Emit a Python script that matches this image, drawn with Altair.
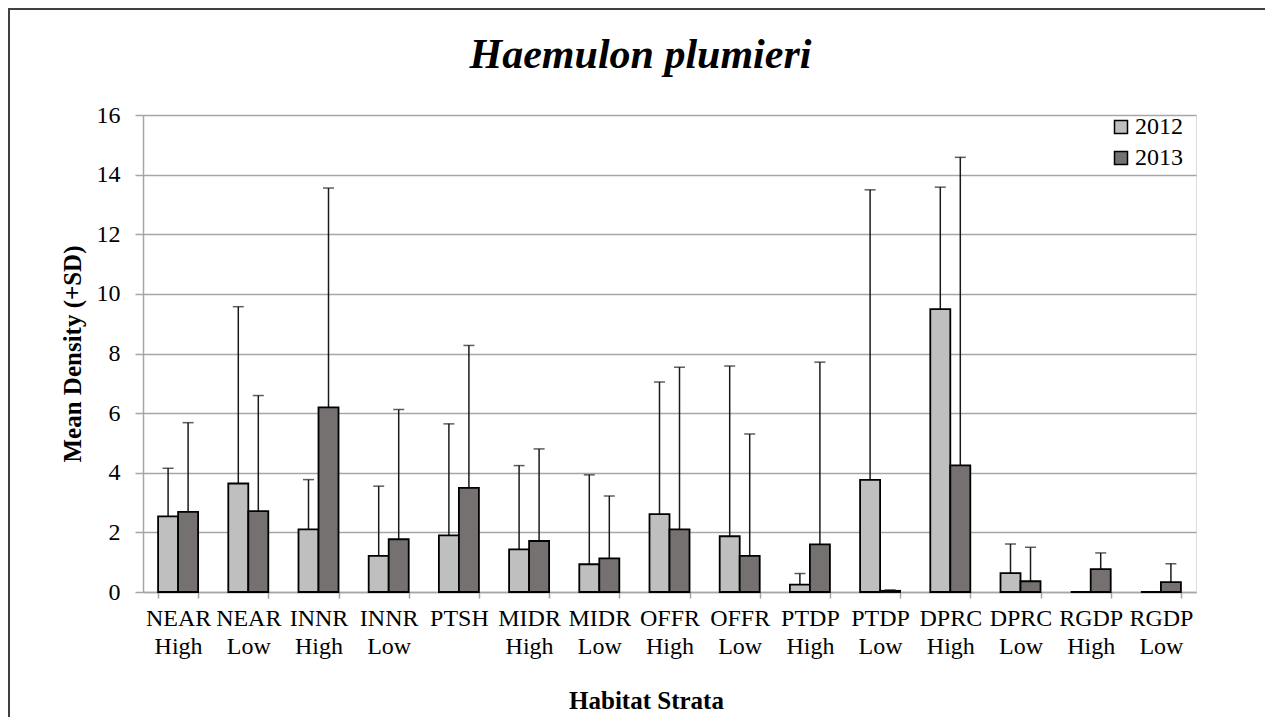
import altair as alt
import pandas as pd

strata = ["NEAR High", "NEAR Low", "INNR High", "INNR Low", "PTSH",
          "MIDR High", "MIDR Low", "OFFR High", "OFFR Low", "PTDP High",
          "PTDP Low", "DPRC High", "DPRC Low", "RGDP High", "RGDP Low"]
years = ["2012", "2013"]
mean_2012 = [2.54, 3.64, 2.10, 1.21, 1.90, 1.43, 0.93, 2.61, 1.87, 0.25, 3.76, 9.49, 0.63, 0.0, 0.0]
sd_2012 = [1.61, 5.93, 1.67, 2.34, 3.74, 2.81, 3.00, 4.43, 5.71, 0.37, 9.73, 4.09, 0.98, 0.0, 0.0]
mean_2013 = [2.69, 2.71, 6.19, 1.77, 3.49, 1.71, 1.13, 2.10, 1.21, 1.60, 0.04, 4.25, 0.36, 0.77, 0.33]
sd_2013 = [2.99, 3.88, 7.36, 4.35, 4.78, 3.09, 2.09, 5.44, 4.09, 6.11, 0.03, 10.33, 1.14, 0.54, 0.62]
colors = ["#BFBFBF", "#767171"]

rows = []
for yr, means, sds in [("2012", mean_2012, sd_2012), ("2013", mean_2013, sd_2013)]:
    for s, m, sd in zip(strata, means, sds):
        rows.append({"stratum": s, "year": yr, "mean": m, "sd": sd, "upper": m + sd})
df = pd.DataFrame(rows)

FONT = "Liberation Serif"
GRID = "#A6A6A6"

x_enc = alt.X("stratum:N", sort=strata,
              scale=alt.Scale(paddingInner=0.43, paddingOuter=0.215),
              axis=alt.Axis(title="Habitat Strata", labelExpr="split(datum.label, ' ')",
                            labelAngle=0, labelFont=FONT, labelFontSize=24, labelColor="black",
                            labelLineHeight=28, labelPadding=8, labelLimit=0, labelOverlap=False,
                            tickBand="extent", tickSize=6, tickColor=GRID, tickWidth=1.5,
                            domainColor=GRID, domainWidth=1.5, grid=False,
                            titleFont=FONT, titleFontSize=25, titleFontWeight="bold",
                            titleColor="black", titleX=503, titleY=108,
                            titleBaseline="middle", titleAlign="center"))
xo_enc = alt.XOffset("year:N", sort=years, scale=alt.Scale(paddingInner=0, paddingOuter=0))

y_scale = alt.Scale(domain=[0, 16], nice=False)
y_axis = alt.Axis(values=list(range(0, 17, 2)), grid=True, gridColor=GRID, gridWidth=1.5,
                  domainColor=GRID, domainWidth=1.5, tickColor=GRID, tickWidth=1.5, tickSize=8,
                  labelFont=FONT, labelFontSize=24, labelColor="black", labelPadding=15,
                  title="Mean Density (+SD)", titleFont=FONT, titleFontSize=25,
                  titleFontWeight="bold", titleColor="black", titleX=-71, titleY=238.5,
                  titleAngle=-90, titleBaseline="middle", titleAlign="center")

base = alt.Chart(df).encode(x=x_enc, xOffset=xo_enc)

bars = base.mark_bar(stroke="black", strokeWidth=1.8).encode(
    y=alt.Y("mean:Q", scale=y_scale, axis=y_axis),
    fill=alt.Fill("year:N", sort=years,
                  scale=alt.Scale(domain=years, range=colors),
                  legend=alt.Legend(title=None, orient="none", legendX=966, legendY=0,
                                    symbolType="square", symbolSize=169,
                                    symbolStrokeColor="black", symbolStrokeWidth=1.5,
                                    labelFont=FONT, labelFontSize=24, labelColor="black",
                                    rowPadding=7, labelOffset=2)),
)

errs = base.transform_filter("datum.sd > 0").mark_rule(color="#1a1a1a", strokeWidth=1.5).encode(
    y=alt.Y("mean:Q", scale=y_scale), y2="upper:Q")
caps = base.transform_filter("datum.sd > 0").mark_tick(color="#1a1a1a", thickness=1.5, size=11).encode(
    y=alt.Y("upper:Q", scale=y_scale))

frame = alt.Chart(pd.DataFrame({"k": [0]})).mark_rect(
    fill="transparent", stroke="#404040", strokeWidth=2).encode(
    x=alt.value(-134), x2=alt.value(1400), y=alt.value(-106), y2=alt.value(900))

chart = alt.layer(frame, errs, bars, caps).properties(
    width=1053, height=477,
    padding={"left": 135, "top": 107, "right": 69, "bottom": 125},
    autosize=alt.AutoSizeParams(type="none"),
    title=alt.TitleParams("Haemulon plumieri", font=FONT, fontSize=42, fontStyle="italic",
                          fontWeight="bold", color="black", anchor="middle", dx=-29,
                          offset=-102, baseline="alphabetic"),
).configure_view(stroke=None).configure(background="white")

chart.save("out.html", embed_options={"renderer": "svg", "actions": False})
